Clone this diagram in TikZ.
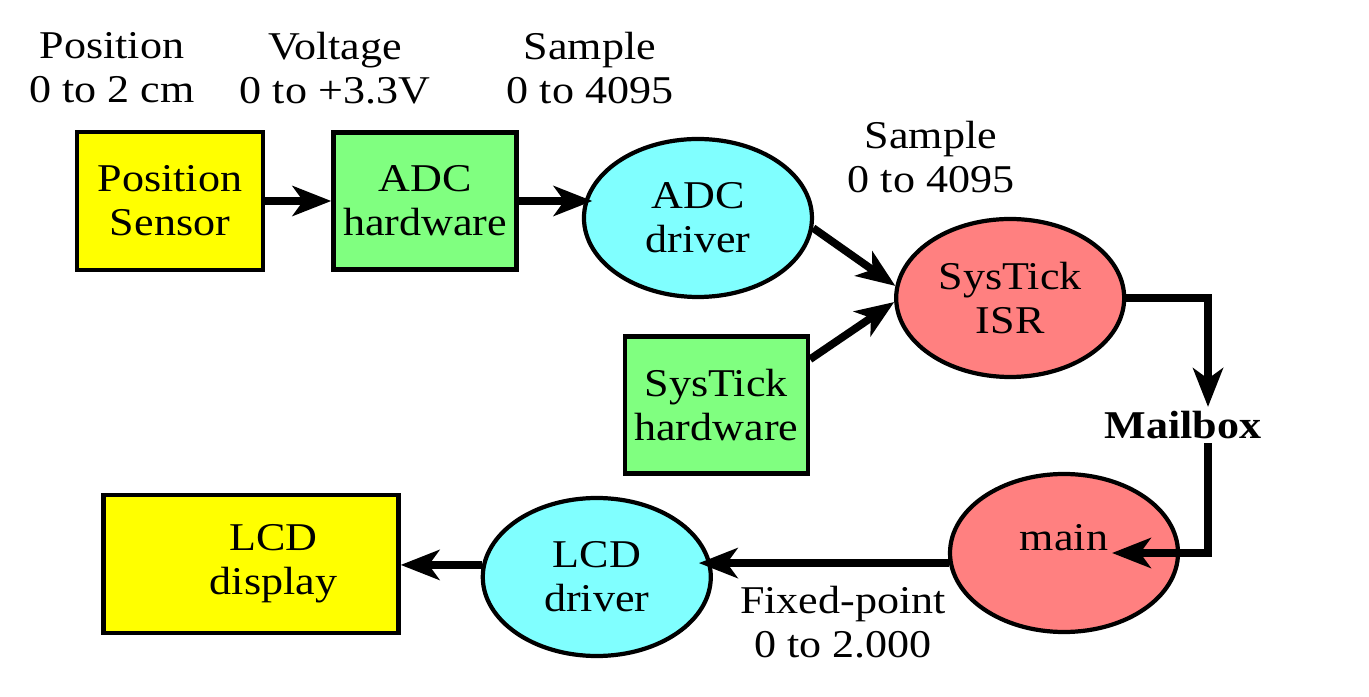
\documentclass[tikz,border=0pt]{standalone}
\usepackage{fontspec}
\setmainfont{Liberation Serif}[FakeStretch=1.12]
\usetikzlibrary{shapes, arrows.meta, positioning}

\definecolor{sensyellow}{HTML}{FFFF00}
\definecolor{hwgreen}{HTML}{80FF80}
\definecolor{drvcyan}{HTML}{80FFFF}
\definecolor{taskred}{HTML}{FF8080}

\begin{document}
\begin{tikzpicture}[
        font=\fontsize{11.2}{12.5}\selectfont,
        sensbox/.style={
            rectangle, draw=black, line width=1.3pt, fill=sensyellow,
            minimum width=1.86cm, minimum height=1.38cm, align=center, inner xsep=1pt
        },
        hwbox/.style={
            rectangle, draw=black, line width=1.3pt, fill=hwgreen,
            minimum width=1.83cm, minimum height=1.37cm, align=center, inner xsep=1pt
        },
        drv/.style={
            ellipse, draw=black, line width=1.2pt, fill=drvcyan,
            minimum width=2.28cm, minimum height=1.58cm, align=center, inner sep=0pt
        },
        task/.style={
            ellipse, draw=black, line width=1.2pt, fill=taskred,
            minimum width=2.28cm, minimum height=1.58cm, align=center, inner sep=0pt
        },
        lbl/.style={align=center, inner sep=1pt},
        arrow/.style={-{Stealth[length=11pt, width=8.5pt, inset=3pt]}, line width=2.2pt}
    ]
        \useasboundingbox (0,0) rectangle (13.69,6.96);

        % Top row
        \node[sensbox] (sensor) at (1.70,4.95) {Position\\Sensor};
        \node[hwbox, right=0.66cm of sensor] (adchw) {ADC\\hardware};
        \node[drv, right=0.63cm of adchw, yshift=-0.17cm] (adcdrv) {ADC\\driver};

        % Middle
        \node[task, right=0.8cm of adcdrv, yshift=-0.8cm] (isr) {SysTick\\ISR};
        \node[hwbox, left=0.84cm of isr, yshift=-1.07cm] (syshw) {SysTick\\hardware};
        \node[lbl, font=\fontsize{11.2}{12.5}\selectfont\bfseries] (mailbox) at (11.83,2.71) {Mailbox};

        % Bottom row
        \node[task] (main) at (10.64,1.43) {\raisebox{0.02cm}[0pt][0pt]{main}};
        \node[drv, left=2.35cm of main, yshift=-0.24cm] (lcddrv) {LCD\\driver};
        \node[sensbox, minimum width=2.95cm, left=0.8cm of lcddrv, yshift=0.13cm] (lcd)
            {\hspace*{0.45cm}LCD\\\hspace*{0.45cm}display};

        % Value labels
        \node[lbl] (poslbl) at (1.12,6.28) {Position\\0 to 2 cm};
        \node[lbl] (voltlbl) at (3.35,6.28) {Voltage\\0 to +3.3V};
        \node[lbl] (samplbl) at (5.90,6.28) {Sample\\0 to 4095};
        \node[lbl] (isrlbl) at (9.31,5.39) {Sample\\0 to 4095};
        \node[lbl] (fixlbl) at (8.43,0.74) {Fixed-point\\0 to 2.000};

        % Data flow
        \draw[arrow] (sensor) -- (adchw);
        \draw[arrow, shorten >=-3pt] (adchw.east) -- (adchw.east -| adcdrv.west);
        \draw[arrow] (adcdrv.-5) -- (isr.174);
        \draw[arrow] (syshw.26) -- (isr.182);
        \draw[arrow] (isr.east) -| ([xshift=0.25cm]mailbox.north);
        \draw[arrow] ([xshift=0.25cm]mailbox.south) |- ([xshift=0.48cm]main.center);
        \draw[arrow, shorten >=-4pt] (main.185) -- (main.185 -| lcddrv.east);
        \draw[arrow] (lcddrv.174) -- (lcddrv.174 -| lcd.east);

    \end{tikzpicture}
\end{document}
